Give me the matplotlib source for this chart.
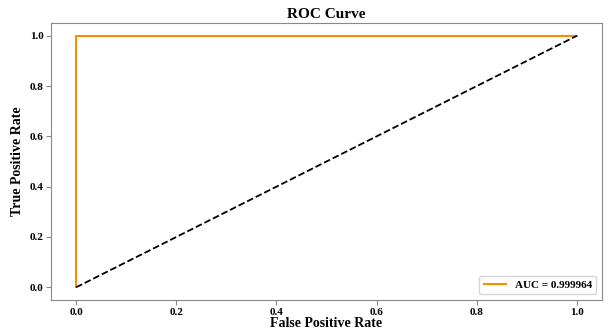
import matplotlib.pyplot as plt

plt.rcParams['font.family'] = ['Liberation Serif', 'DejaVu Serif']
plt.rcParams['font.weight'] = 'bold'

# ROC points
fpr = [0.0, 0.0, 1.0]
tpr = [0.0, 1.0, 1.0]
auc_value = 0.999964
chance = [0.0, 1.0]

fig = plt.figure(figsize=(6.08, 3.31), dpi=100)
ax = fig.add_axes([0.084, 0.094, 0.906, 0.836])

ax.plot(fpr, tpr, color='darkorange', lw=1.5, label=f'AUC = {auc_value:.6f}')
ax.plot(chance, chance, color='black', lw=1.3, linestyle='--')

ax.set_title('ROC Curve', fontsize=11, fontweight='bold', pad=4)
ax.set_xlabel('False Positive Rate', fontsize=10, fontweight='bold', labelpad=0)
ax.set_ylabel('True Positive Rate', fontsize=10, fontweight='bold')
ax.tick_params(labelsize=8, colors='black', pad=2)
for lbl in ax.get_xticklabels() + ax.get_yticklabels():
    lbl.set_fontweight('bold')
for s in ax.spines.values():
    s.set_color('#888888')
ax.tick_params(color='#888888')

ax.legend(loc='lower right', prop={'weight': 'bold', 'size': 8})

fig.savefig('out.png', dpi=100)
